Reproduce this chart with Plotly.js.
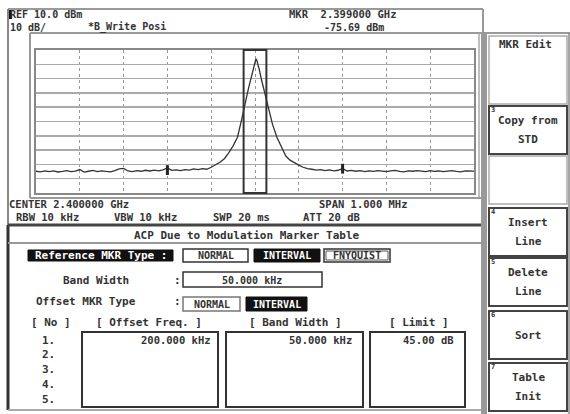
<!DOCTYPE html>
<html><head><meta charset="utf-8">
<script src="https://cdn.plot.ly/plotly-3.0.1.min.js"></script>
<style>html,body{margin:0;padding:0;background:#fff;}#chart{width:570px;height:414px;}</style>
</head><body><div id="chart"></div>
<script>
// Spectrum trace: offset from center (kHz) and level (dBm)
const leftNoiseX = [-500,-490,-480,-470,-460,-450,-440,-430,-420,-410,-400,-390,-380,-370,-360,-350,-340,-330,-320,-310,-300,-290,-280,-270,-260,-250,-240,-230,-220,-210,-200,-190,-180,-170,-160,-150,-140,-130,-120,-110];
const leftNoiseY = [-74.8,-75.2,-74.5,-75.0,-74.6,-75.3,-74.9,-74.4,-75.1,-74.7,-73.6,-75.4,-74.8,-74.2,-75.0,-74.5,-74.9,-75.2,-74.3,-73.2,-72.8,-74.6,-75.0,-74.4,-74.8,-74.1,-74.6,-74.0,-74.5,-73.8,-72.5,-74.2,-73.8,-74.3,-73.6,-74.0,-73.2,-73.7,-72.9,-73.4];
const peakX = [-100,-90,-80,-70,-60,-50,-40,-30,-25,-20,-15,-10,-5,0,2,4,6,10,15,20,25,30,40,50,60,70,80,90,100,110,120];
const peakY = [-72,-70.5,-68.5,-66,-62,-57,-51,-38,-30,-24,-17,-11,-4,2,3.7,3,1,-4,-11,-17,-22,-30,-42,-51,-58,-64,-67,-69,-70.5,-72,-73];
const rightNoiseX = [130,140,150,160,170,180,190,200,210,220,230,240,250,260,270,280,290,300,310,320,330,340,350,360,370,380,390,400,410,420,430,440,450,460,470,480,490,500];
const rightNoiseY = [-73.4,-74.0,-73.6,-74.3,-73.9,-74.5,-74.1,-72.8,-74.6,-74.2,-74.8,-74.4,-75.0,-74.5,-74.9,-74.3,-74.7,-75.1,-74.6,-74.2,-74.9,-75.2,-74.5,-74.8,-74.3,-74.7,-75.0,-74.4,-74.9,-74.6,-75.1,-74.7,-74.4,-74.9,-75.2,-74.6,-74.9,-74.7];
// Markers at offset +/-200 kHz
const mkrX = [-200, 200];
const mkrY = [-74, -73];
// Marker band (kHz)
const bandX = [-26, 26];

// Text contents
const refLabel = "REF 10.0 dBm";
const divLabel = "10 dB/";
const traceMode = "*B_Write Posi";
const mkrFreq = "MKR  2.399000 GHz";
const mkrLevel = "-75.69 dBm";
const centerLabel = "CENTER 2.400000 GHz";
const spanLabel = "SPAN 1.000 MHz";
const setupLabels = ["RBW 10 kHz","VBW 10 kHz","SWP 20 ms","ATT 20 dB"];
const tableTitle = "ACP Due to Modulation Marker Table";
const colHeaders = ["[ No ]","[ Offset Freq. ]","[ Band Width ]","[ Limit ]"];
const rowNums = ["1.","2.","3.","4.","5."];
const row1 = ["200.000 kHz","50.000 kHz","45.00 dB"];
const softTitle = "MKR Edit";
const softKeys = [["Copy from","STD"],[],["Insert","Line"],["Delete","Line"],["Sort"],["Table","Init"]];
const softNums = ["3","","4","5","6","7"];

const traceX = leftNoiseX.concat(peakX, rightNoiseX);
const traceY = leftNoiseY.concat(peakY, rightNoiseY);

// pixel -> paper conversion (plot area 36..474 x 50..193)
const PX = p => (p - 36) / 438;
const PY = p => (193 - p) / 143;
const FONT = "DejaVu Sans Mono, monospace";
const INK = "#333";

const shapes = [];
const annotations = [];
function R(x0,y0,x1,y1,col,w,fill){shapes.push({type:'rect',xref:'paper',yref:'paper',x0:PX(x0),x1:PX(x1),y0:PY(y0),y1:PY(y1),line:{color:col,width:w},fillcolor:fill||'rgba(0,0,0,0)',layer:'above'});}
function L(x0,y0,x1,y1,col,w){shapes.push({type:'line',xref:'paper',yref:'paper',x0:PX(x0),x1:PX(x1),y0:PY(y0),y1:PY(y1),line:{color:col,width:w},layer:'above'});}
function T(text,x,y,o){o=o||{};annotations.push({text:text,xref:'paper',yref:'paper',x:PX(x),y:PY(y),xanchor:o.anchor||'left',yanchor:'middle',showarrow:false,borderpad:0,font:{family:FONT,size:o.size||11,color:o.color||INK,weight:'bold'}});}

// frames
L(8,9,483,9,'#999',2);
L(483,9,483,33,'#999',2);
L(8,9,8,225,'#888',2);
L(8,225,8,410,'#333',3);
L(30,33,570,33,'#999',2);
L(30,33,30,198,'#999',2);
L(479,33,479,198,'#aaa',1.5);
L(30,198,483,198,'#999',2);
L(8,225,482,225,'#444',3);
L(8,243,482,243,'#999',2);
L(8,410,482,410,'#aaa',2);
// softkey panel
shapes.push({type:'rect',xref:'paper',yref:'paper',x0:PX(481),x1:PX(487),y0:PY(33),y1:PY(414),line:{width:0},fillcolor:'#999',layer:'above'});
L(569,33,569,414,'#888',1.5);
R(489,36,567,104,'#aaa',1.5);
const keyTops=[106,156,208,258,311,363];
keyTops.forEach((t,i)=>{
  const dark = i!==1;
  R(489,t,567,t+48,dark?'#444':'#aaa',dark?2:1.5);
  if(softNums[i]) T(softNums[i],489.5,t+4,{size:7});
  const k=softKeys[i];
  if(k.length===2){T(k[0],528,t+14,{anchor:'center'});T(k[1],528,t+33,{anchor:'center'});}
  else if(k.length===1){T(k[0],528,t+24,{anchor:'center'});}
});
T(softTitle,525,45,{anchor:'center'});

// marker band in plot
shapes.push({type:'rect',xref:'x',yref:'paper',x0:bandX[0],x1:bandX[1],y0:0,y1:1,line:{color:'#333',width:2},layer:'above'});

// header texts
shapes.push({type:'rect',xref:'paper',yref:'paper',x0:PX(8),x1:PX(12),y0:PY(9),y1:PY(19),line:{width:0},fillcolor:'#111',layer:'below'});
T(refLabel,9,14,{size:10});
T(divLabel,9,27,{size:10});
T(traceMode,87,27,{size:10});
T(mkrFreq,288,14,{size:10.5});
T(mkrLevel,323,27,{size:10});
T(centerLabel,8,204,{size:10.5});
T(spanLabel,318,204,{size:10.5});
[15,113,212,302].forEach((x,i)=>T(setupLabels[i],x,217,{size:10.5}));
T(tableTitle,247,235,{anchor:'center'});

// Reference MKR Type row
R(28,250,173,261,'#111',1,'#111');
T("Reference MKR Type :",100.5,255.5,{anchor:'center',color:'#fff'});
R(183,249,248,262,'#333',1.5,'#fff');
T("NORMAL",215.5,255.5,{anchor:'center',size:10});
R(254,249,320,262,'#111',1,'#111');
T("INTERVAL",287,255.5,{anchor:'center',size:10,color:'#fff'});
R(324,249,390,262,'#333',1.5,'#fff');
R(326,251,388,260,'#555',1);
T("FNYQUIST",357,255.5,{anchor:'center',size:10});
// Band width row
T("Band Width",62,280);
T(":",173,280);
R(183,272,322,287,'#333',1.5,'#fff');
T("50.000 kHz",252,280,{anchor:'center',size:10});
// Offset MKR type row
T("Offset MKR Type",35,301);
T(":",173,301);
R(183,297,240,311,'#777',1.5,'#fff');
T("NORMAL",211.5,304,{anchor:'center',size:10});
R(246,297,307,311,'#111',1,'#111');
T("INTERVAL",276.5,304,{anchor:'center',size:10,color:'#fff'});
// table
[30,95,248,388].forEach((x,i)=>T(colHeaders[i],x,322));
[[82,218],[226,363],[370,465]].forEach(b=>R(b[0],332,b[1],407,'#333',2));
rowNums.forEach((n,i)=>T(n,48,340+i*14.8,{anchor:'center'}));
T(row1[0],212,340,{anchor:'right',size:10.5});
T(row1[1],353,340,{anchor:'right',size:10.5});
T(row1[2],455,340,{anchor:'right',size:10.5});

const data = [
  {x:traceX,y:traceY,type:'scatter',mode:'lines',line:{color:'#333',width:1.3},hoverinfo:'skip'},
  {x:mkrX,y:mkrY,type:'scatter',mode:'markers',marker:{symbol:'line-ns',size:7,line:{color:'#222',width:3}},hoverinfo:'skip'}
];
const layout = {
  width:570,height:414,autosize:false,
  margin:{l:36,r:96,t:50,b:221,pad:0},
  paper_bgcolor:'#fff',plot_bgcolor:'#fff',
  showlegend:false,
  xaxis:{range:[-500,500],dtick:100,tick0:0,showticklabels:false,ticks:'',showgrid:true,gridcolor:'#999',griddash:'dot',gridwidth:1,zeroline:false,showline:true,mirror:true,linecolor:'#888',linewidth:2,fixedrange:true},
  yaxis:{range:[-90,10],dtick:10,tick0:0,showticklabels:false,ticks:'',showgrid:true,gridcolor:'#aaa',gridwidth:1.5,zeroline:false,showline:true,mirror:true,linecolor:'#888',linewidth:2,fixedrange:true},
  shapes:shapes,annotations:annotations
};
Plotly.newPlot('chart',data,layout,{displayModeBar:false,staticPlot:true});
</script></body></html>
